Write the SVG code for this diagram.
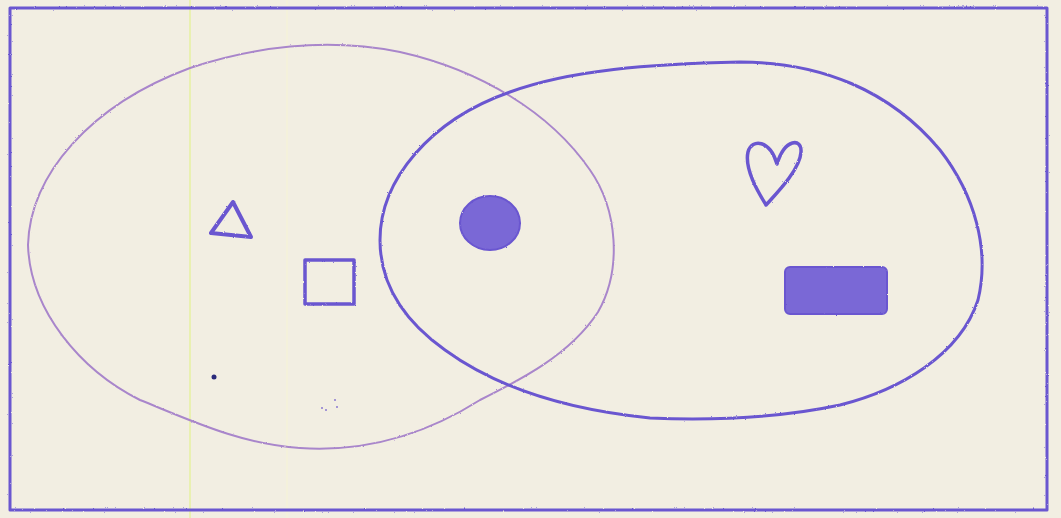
<svg xmlns="http://www.w3.org/2000/svg" width="1061" height="518" viewBox="0 0 1061 518">
<style>
.ink{fill:none;stroke:#6b57d0;stroke-linecap:round;stroke-linejoin:round}
.fillink{fill:#7a68d6;stroke:#6b57d0;stroke-width:2}
.pale{stroke:#a986cb}
</style>
<defs>
<filter id="rough" x="-5%" y="-5%" width="110%" height="110%">
<feTurbulence type="fractalNoise" baseFrequency="0.9" numOctaves="2" seed="3" result="n"/>
<feDisplacementMap in="SourceGraphic" in2="n" scale="2"/>
</filter>
</defs>
<rect width="1061" height="518" fill="#f2eee2"/>
<line x1="190" y1="0" x2="190" y2="518" stroke="#e6f0a0" stroke-width="1.5"/>
<line x1="287" y1="0" x2="287" y2="518" stroke="#f5f2d8" stroke-width="1.5"/>
<g id="frame" filter="url(#rough)">
<rect x="10" y="8" width="1037" height="502" class="ink" stroke-width="3"/>
</g>
<g id="set-left" filter="url(#rough)">
<path class="ink pale" stroke-width="2" d="M28,245 C30,175 90,105 190,68 C260,45 330,38 400,52 C480,70 550,112 590,170 C618,210 622,270 598,312 C570,355 520,380 480,400 C420,438 360,452 300,448 C240,444 190,420 140,400 C80,370 30,310 28,245 Z"/>
</g>
<g id="set-right" filter="url(#rough)">
<path class="ink" stroke-width="3" d="M380,240 C380,180 430,120 510,92 C570,70 650,64 740,62 C820,62 890,90 940,150 C975,195 990,250 978,300 C960,355 900,390 840,405 C770,420 700,420 650,418 C570,410 500,390 445,350 C400,318 380,280 380,240 Z"/>
</g>
<g id="triangle" filter="url(#rough)">
<path class="ink" stroke-width="4" d="M233,202 L211,233 L251,237 Z"/>
</g>
<g id="square" filter="url(#rough)">
<rect x="305" y="260" width="49" height="44" class="ink" stroke-width="3.5"/>
</g>
<g id="circle" filter="url(#rough)">
<ellipse cx="490" cy="223" rx="30" ry="27" class="fillink"/>
</g>
<g id="heart" filter="url(#rough)">
<path class="ink" stroke-width="3.5" d="M777,164 C770,140 752,138 748,152 C744,170 760,195 766,205 C775,195 800,170 801,152 C802,138 785,138 777,164 Z"/>
</g>
<g id="rectangle" filter="url(#rough)">
<rect x="785" y="267" width="102" height="47" rx="5" class="fillink"/>
</g>
<circle cx="214" cy="377" r="2.5" fill="#2a2a7a"/>
<g fill="#8a78d0">
<circle cx="322" cy="408" r="1"/><circle cx="326" cy="410" r="1"/><circle cx="335" cy="400" r="1"/><circle cx="337" cy="407" r="1"/>
</g>
</svg>
